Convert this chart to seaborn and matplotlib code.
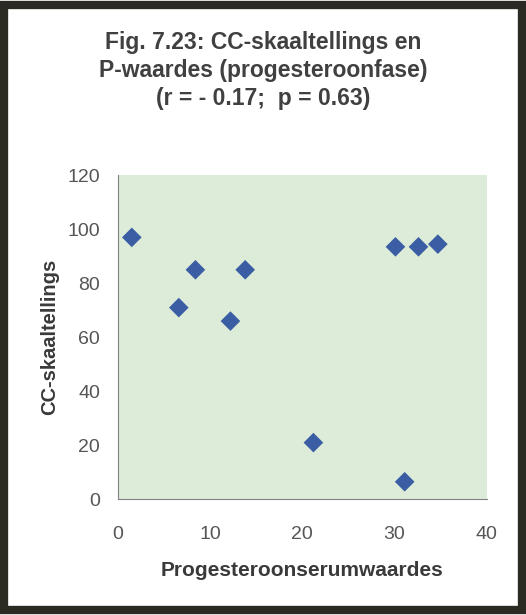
import matplotlib
matplotlib.use("Agg")
import matplotlib.pyplot as plt
import seaborn as sns
import pandas as pd
from matplotlib.patches import Rectangle

progesterone = [1.5, 6.6, 8.4, 12.2, 13.8, 21.2, 30.1, 31.1, 32.6, 34.7]
cc_scores = [97, 71, 85, 66, 85, 21, 93.5, 6.5, 93.5, 94.5]
x_ticks = [0, 10, 20, 30, 40]
y_ticks = [0, 20, 40, 60, 80, 100, 120]
title_lines = ["Fig. 7.23: CC-skaaltellings en", "P-waardes (progesteroonfase)", "(r = - 0.17;  p = 0.63)"]

df = pd.DataFrame({"x": progesterone, "y": cc_scores})

sns.set_style("white")
plt.rcParams["font.family"] = ["Liberation Sans", "DejaVu Sans"]

fig = plt.figure(figsize=(5.26, 6.15), dpi=100)
ax = fig.add_axes([0.2243, 0.1881, 0.701, 0.5269])
ax.set_facecolor("#dcecd8")

sns.scatterplot(data=df, x="x", y="y", marker="D", s=100, color="#3a5da3",
                edgecolor="none", ax=ax, zorder=3)

ax.set_xlim(0, 40)
ax.set_ylim(0, 120)
ax.set_xticks(x_ticks)
ax.set_yticks(y_ticks)
ax.tick_params(axis="both", direction="out", length=5, width=0.8, color="#808080",
               labelsize=14, labelcolor="#555555")
ax.tick_params(axis="x", pad=14)
ax.tick_params(axis="y", pad=8)
for side in ["top", "right"]:
    ax.spines[side].set_visible(False)
for side in ["left", "bottom"]:
    ax.spines[side].set_color("#808080")
    ax.spines[side].set_linewidth(0.8)

ax.set_xlabel("Progesteroonserumwaardes", fontsize=15, fontweight="bold",
              color="#3a3a3a", labelpad=13)
ax.set_ylabel("CC-skaaltellings", fontsize=14.5, fontweight="bold",
              color="#3a3a3a", labelpad=6)

for i, line in enumerate(title_lines):
    fig.text(0.5, 1 - (43 + 27.5 * i) / 615, line, ha="center", va="center",
             fontsize=16.5, fontweight="bold", color="#404040")

# figure frame
fig.patches.append(Rectangle((0.008, 0.008), 0.984, 0.984, transform=fig.transFigure,
                             fill=False, edgecolor="#2b2b24", linewidth=6))

fig.savefig("out.png", dpi=100)
